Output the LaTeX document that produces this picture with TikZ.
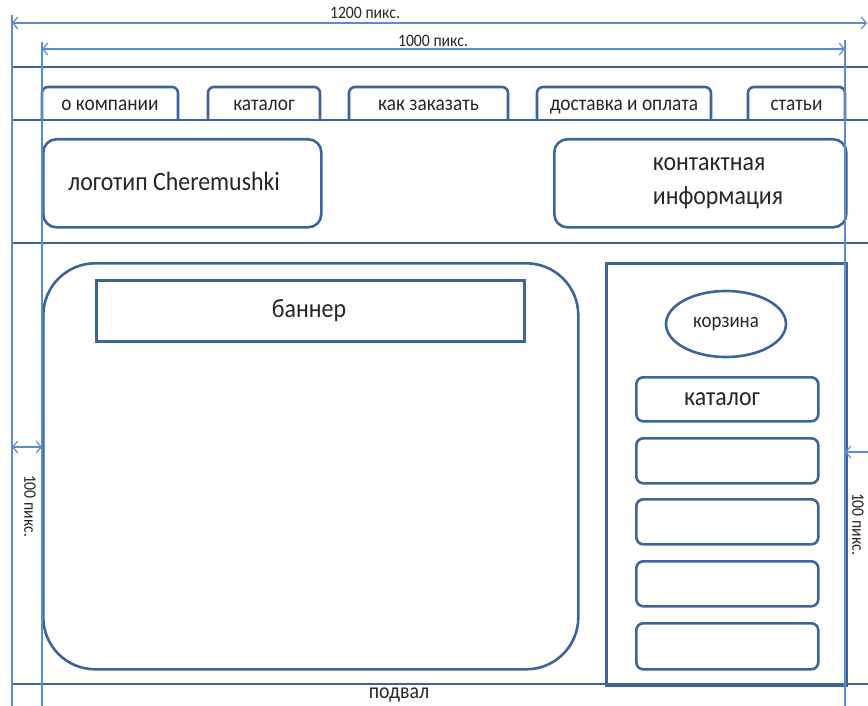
\documentclass[tikz,border=0pt]{standalone}
\usepackage{fontspec}
\setmainfont{Carlito}[FakeStretch=0.9]
\usetikzlibrary{arrows.meta,shapes.geometric}
\definecolor{dk}{HTML}{3D6499}
\definecolor{lt}{HTML}{5B8CD0}
\begin{document}
\begin{tikzpicture}[x=1pt,y=-1pt,
  dkline/.style={draw=dk,line width=2.6pt},
  ltline/.style={draw=lt,line width=1.3pt},
  barb/.tip={Straight Barb[length=5pt,width=12pt,line width=1.2pt]},
  dimarrow/.style={ltline,barb-barb},
  lbl/.style={text=black!85,inner sep=0pt},
  box/.style={dkline,rectangle,inner sep=0pt,anchor=north west},
  rbox/.style={box,rounded corners=7pt},
  tabtext/.style={lbl,anchor=base,font=\fontsize{21.5}{24}\selectfont},
  bigtext/.style={lbl,font=\fontsize{26.5}{34}\selectfont},
  dimtext/.style={lbl,font=\fontsize{17.5}{20}\selectfont}
]
\useasboundingbox (0,0) rectangle (868,706);

% ---------- frame lines (dark) ----------
\coordinate (fl0) at (12,67);  \coordinate (fr0) at (875,67);
\coordinate (fl1) at (12,120); \coordinate (fr1) at (875,120);
\coordinate (fl2) at (12,243); \coordinate (fr2) at (875,243);
\coordinate (fl3) at (12,684); \coordinate (fr3) at (875,684);
\coordinate (fbl) at (12,710);
\draw[dkline] (fl0) -- (fr0);
\draw[dkline] (fl1) -- (fr1);
\draw[dkline] (fl2) -- (fr2);
\draw[dkline] (fl3) -- (fr3);
\draw[dkline] (fl0) -- (fbl);

% ---------- tabs ----------
\foreach \n/\a/\b/\t in {t1/42/178/о компании, t2/208/320/каталог, t3/349/508/как заказать, t4/537/711/доставка и оплата, t5/748/845/статьи}{
  \draw[dkline,rounded corners=6pt] (\a,121) -- (\a,87) -- (\b,87) -- (\b,121);
  \node[tabtext] (\n) at ({(\a+\b)/2},111) {\t};
}

% ---------- header boxes ----------
\node[rbox,rounded corners=13pt,minimum width=278pt,minimum height=88pt] (logo) at (42,138) {};
\node[bigtext] (logotext) at (174,181) {логотип Cheremushki};
\node[rbox,rounded corners=13pt,minimum width=292pt,minimum height=88pt] (contact) at (553,138) {};
\node[bigtext,align=left] (contacttext) at (718,183) {контактная\\информация};

% ---------- main content ----------
\node[box,rounded corners=52pt,minimum width=535pt,minimum height=406pt] (main) at (42,262) {};
\node[box,minimum width=428pt,minimum height=61pt] (banner) at (95,279) {};
\node[bigtext] (bannertext) at (309,311) {баннер};

% ---------- sidebar ----------
\node[box,minimum width=240pt,minimum height=422pt] (side) at (605,262) {};
\node[dkline,ellipse,minimum width=120pt,minimum height=66pt,inner sep=0pt] (cart) at (726,324) {};
\node[lbl,font=\fontsize{21}{24}\selectfont] (carttext) at (726,324) {корзина};
\node[rbox,minimum width=182pt,minimum height=44pt] (cat) at (635,376) {};
\node[lbl,font=\fontsize{26.5}{30}\selectfont] (cattext) at (722,399) {каталог};
\node[rbox,minimum width=182pt,minimum height=45pt] (c1) at (635,437) {};
\node[rbox,minimum width=182pt,minimum height=45pt] (c2) at (635,498) {};
\node[rbox,minimum width=182pt,minimum height=45pt] (c3) at (635,560) {};
\node[rbox,minimum width=182pt,minimum height=46pt] (c4) at (635,622) {};

% ---------- footer ----------
\node[lbl,font=\fontsize{22}{24}\selectfont] (footer) at (399,695) {подвал};

% ---------- dimension lines (light) ----------
\coordinate (v1t) at (12,15);  \coordinate (v1b) at (12,710);
\coordinate (v2t) at (42,42);  \coordinate (v2b) at (42,710);
\coordinate (v3t) at (845,40); \coordinate (v3b) at (845,710);
\draw[ltline] (v1t) -- (v1b);
\draw[ltline] (v2t) -- (v2b);
\draw[ltline] (v3t) -- (v3b);

\coordinate (a1l) at (12,23);  \coordinate (a1r) at (867,23);
\coordinate (a2l) at (42,49);  \coordinate (a2r) at (845,49);
\coordinate (a3l) at (12,447); \coordinate (a3r) at (42,447);
\coordinate (a4l) at (845,452); \coordinate (a4r) at (880,452);
\draw[dimarrow] (a1l) -- (a1r);
\draw[dimarrow] (a2l) -- (a2r);
\draw[dimarrow] (a3l) -- (a3r);
\draw[dimarrow] (a4l) -- (a4r);

\node[dimtext] (d1200) at (365,13) {1200 пикс.};
\node[dimtext] (d1000) at (433,41) {1000 пикс.};
\node[dimtext,rotate=-90] (d100l) at (30,506) {100 пикс.};
\node[dimtext,rotate=-90] (d100r) at (858,524) {100 пикс.};
\end{tikzpicture}
\end{document}
